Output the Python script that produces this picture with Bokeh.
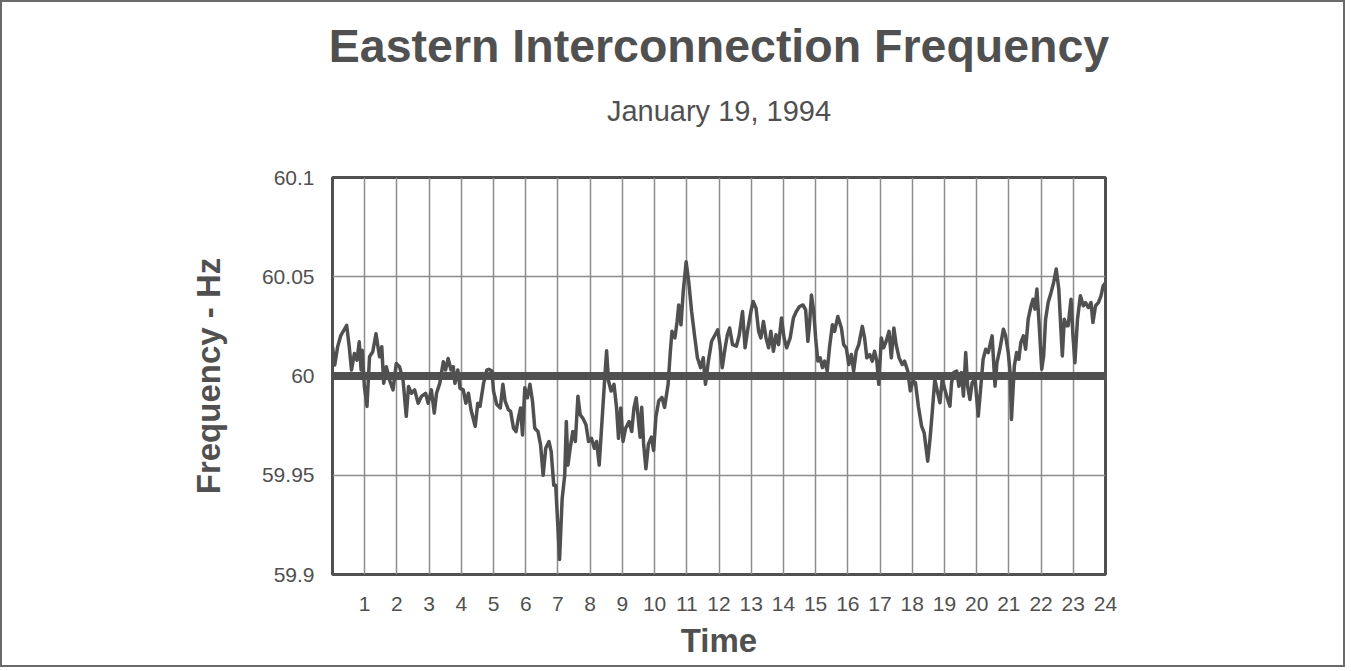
from bokeh.plotting import figure
from bokeh.models import Span, FixedTicker, Range1d, Title, LinearAxis
from bokeh.embed import file_html
from bokeh.resources import INLINE

# ---------------- data ----------------
hours = [
    0.00, 0.07, 0.16, 0.26, 0.44, 0.52, 0.59, 0.68, 0.76, 0.83, 0.89, 0.92, 0.99,
    1.07, 1.15, 1.25, 1.35, 1.46, 1.53, 1.59, 1.67, 1.77, 1.88, 1.98,
    2.08, 2.19, 2.29, 2.36, 2.45, 2.55, 2.66, 2.76, 2.89, 2.97,
    3.07, 3.16, 3.23, 3.33, 3.44, 3.51, 3.59, 3.68, 3.75, 3.80, 3.89, 3.96,
    4.06, 4.14, 4.22, 4.30, 4.43, 4.51, 4.58, 4.69, 4.79, 4.85, 4.95,
    5.00, 5.10, 5.21, 5.29, 5.36, 5.46, 5.53, 5.62, 5.70, 5.77, 5.84, 5.90, 5.97,
    6.05, 6.13, 6.21, 6.28, 6.38, 6.46, 6.54, 6.62, 6.72, 6.79, 6.87, 6.93,
    7.05, 7.13, 7.21, 7.26, 7.31, 7.38, 7.46, 7.54, 7.62, 7.69, 7.77, 7.87, 7.95,
    8.04, 8.13, 8.20, 8.28, 8.36, 8.44, 8.51, 8.57, 8.65, 8.74, 8.82, 8.88, 8.95,
    9.02, 9.10, 9.21, 9.29, 9.36, 9.43, 9.55, 9.60, 9.66, 9.73, 9.81, 9.90, 9.97,
    10.04, 10.13, 10.23, 10.31, 10.42, 10.49, 10.54, 10.63, 10.70, 10.75, 10.82, 10.89, 10.98,
    11.06, 11.15, 11.25, 11.33, 11.43, 11.51, 11.58, 11.67, 11.77, 11.88, 11.96,
    12.03, 12.10, 12.19, 12.26, 12.33, 12.42, 12.54, 12.63, 12.73, 12.81, 12.90, 12.99,
    13.06, 13.15, 13.23, 13.30, 13.38, 13.46, 13.54, 13.61, 13.69, 13.77, 13.85, 13.94,
    14.02, 14.10, 14.21, 14.31, 14.40, 14.50, 14.61, 14.69, 14.76, 14.81, 14.87, 14.94,
    15.00, 15.07, 15.14, 15.21, 15.28, 15.36, 15.43, 15.52, 15.59, 15.69, 15.80, 15.87, 15.95,
    16.03, 16.11, 16.18, 16.26, 16.34, 16.45, 16.52, 16.59, 16.68, 16.76, 16.83, 16.90, 16.96,
    17.04, 17.11, 17.19, 17.28, 17.35, 17.43, 17.50, 17.59, 17.69, 17.76, 17.86, 17.94,
    18.02, 18.10, 18.19, 18.29, 18.37, 18.48, 18.55, 18.62, 18.70, 18.79, 18.86, 18.93,
    19.01, 19.10, 19.17, 19.22, 19.29, 19.38, 19.45, 19.53, 19.59, 19.66, 19.72, 19.79, 19.86, 19.95,
    20.05, 20.13, 20.20, 20.28, 20.36, 20.43, 20.48, 20.57, 20.63, 20.72, 20.83, 20.90, 20.98,
    21.04, 21.08, 21.17, 21.24, 21.31, 21.37, 21.45, 21.52, 21.60, 21.69, 21.75, 21.81, 21.87, 21.93,
    22.02, 22.08, 22.14, 22.22, 22.31, 22.39, 22.47, 22.55, 22.62, 22.66, 22.72, 22.79, 22.84, 22.93, 22.99,
    23.05, 23.13, 23.22, 23.31, 23.38, 23.47, 23.55, 23.61, 23.69, 23.78, 23.86, 23.93, 24.00,
]

freq = [
    60.0147, 60.0055, 60.0147, 60.0205, 60.0255, 60.0147, 60.0030, 60.0113, 60.0080, 60.0172, 60.0030, 60.0130, 59.9947,
    59.9847, 60.0097, 60.0122, 60.0213, 60.0097, 60.0147, 59.9963, 60.0047, 59.9980, 59.9930, 60.0063,
    60.0047, 59.9980, 59.9797, 59.9947, 59.9913, 59.9930, 59.9863, 59.9897, 59.9913, 59.9863,
    59.9930, 59.9813, 59.9913, 59.9963, 60.0072, 60.0030, 60.0088, 60.0030, 60.0047, 59.9963, 60.0030, 59.9938,
    59.9930, 59.9863, 59.9913, 59.9830, 59.9747, 59.9863, 59.9847, 59.9963, 60.0030, 60.0034, 60.0025,
    59.9924, 59.9856, 59.9839, 59.9958, 59.9873, 59.9831, 59.9822, 59.9737, 59.9720, 59.9788, 59.9839, 59.9703, 59.9941,
    59.9890, 59.9958, 59.9873, 59.9737, 59.9720, 59.9653, 59.9500, 59.9636, 59.9670, 59.9619, 59.9449, 59.9449,
    59.9076, 59.9381, 59.9500, 59.9771, 59.9551, 59.9636, 59.9720, 59.9670, 59.9898, 59.9805, 59.9788, 59.9754, 59.9670,
    59.9686, 59.9636, 59.9670, 59.9551, 59.9754, 59.9958, 60.0127, 59.9975, 59.9924, 59.9958, 59.9839, 59.9686, 59.9839,
    59.9670, 59.9737, 59.9771, 59.9720, 59.9839, 59.9890, 59.9692, 59.9842, 59.9658, 59.9533, 59.9658, 59.9692, 59.9625,
    59.9792, 59.9875, 59.9892, 59.9842, 59.9958, 60.0125, 60.0225, 60.0192, 60.0275, 60.0358, 60.0258, 60.0425, 60.0575,
    60.0475, 60.0325, 60.0192, 60.0092, 60.0042, 60.0092, 59.9958, 60.0075, 60.0175, 60.0208, 60.0233,
    60.0158, 60.0042, 60.0142, 60.0208, 60.0242, 60.0158, 60.0150, 60.0208, 60.0325, 60.0142, 60.0242, 60.0325,
    60.0375, 60.0342, 60.0225, 60.0192, 60.0275, 60.0192, 60.0142, 60.0225, 60.0125, 60.0208, 60.0158, 60.0292,
    60.0192, 60.0142, 60.0192, 60.0292, 60.0325, 60.0350, 60.0358, 60.0333, 60.0175, 60.0258, 60.0408, 60.0325,
    60.0192, 60.0075, 60.0092, 60.0042, 60.0075, 60.0025, 60.0142, 60.0258, 60.0225, 60.0300, 60.0242, 60.0158, 60.0142,
    60.0058, 60.0108, 60.0025, 60.0125, 60.0158, 60.0250, 60.0192, 60.0092, 60.0108, 60.0075, 60.0125, 60.0075, 59.9958,
    60.0192, 60.0142, 60.0175, 60.0225, 60.0092, 60.0242, 60.0158, 60.0092, 60.0058, 60.0075, 60.0025, 59.9925,
    59.9975, 59.9966, 59.9848, 59.9747, 59.9714, 59.9571, 59.9680, 59.9815, 59.9983, 59.9916, 59.9865, 59.9983,
    59.9933, 59.9882, 59.9848, 59.9966, 60.0017, 60.0025, 59.9949, 60.0017, 59.9899, 60.0118, 59.9949, 59.9882, 59.9966, 59.9983,
    59.9798, 59.9949, 60.0084, 60.0135, 60.0118, 60.0168, 60.0202, 59.9949, 60.0067, 60.0135, 60.0236, 60.0202, 60.0118,
    60.0017, 59.9781, 60.0051, 60.0118, 60.0084, 60.0168, 60.0202, 60.0135, 60.0286, 60.0354, 60.0387, 60.0337, 60.0438, 60.0286,
    60.0034, 60.0101, 60.0286, 60.0370, 60.0421, 60.0471, 60.0539, 60.0438, 60.0219, 60.0101, 60.0286, 60.0253, 60.0253, 60.0387, 60.0202,
    60.0067, 60.0286, 60.0404, 60.0354, 60.0370, 60.0345, 60.0370, 60.0269, 60.0354, 60.0370, 60.0404, 60.0455, 60.0470,
]

x_ticks = list(range(1, 25))
y_ticks = [59.9, 59.95, 60.0, 60.05, 60.1]
y_tick_labels = ["59.9", "59.95", "60", "60.05", "60.1"]
nominal = 60.0
title_text = "Eastern Interconnection Frequency"
subtitle_text = "January 19, 1994"
x_label = "Time"
y_label = "Frequency - Hz"

# ---------------- layout ----------------
W, H = 1341, 663
FL, FT, FW, FH = 330, 175, 773, 397      # frame position inside canvas (px)
INK = "#505050"
GRID = "#8c8c8c"
FONT = "Liberation Sans"

p = figure(frame_width=FW, frame_height=FH, output_backend="svg", toolbar_location=None,
           x_range=Range1d(0, 24), y_range=Range1d(59.9, 60.1),
           min_border_left=FL, min_border_right=W - FL - FW,
           min_border_top=FT, min_border_bottom=H - FT - FH)
p.background_fill_color = "white"
p.border_fill_color = "white"
p.outline_line_color = INK
p.outline_line_width = 3
p.styles = {"border": "2px solid #6a6a6a"}

# grids
p.xgrid.ticker = FixedTicker(ticks=x_ticks)
p.ygrid.ticker = FixedTicker(ticks=y_ticks)
for g in (p.xgrid, p.ygrid):
    g.grid_line_color = GRID
    g.grid_line_width = 1.5

# axes
xax = p.below[0]
yax = p.left[0]
xax.ticker = FixedTicker(ticks=x_ticks)
yax.ticker = FixedTicker(ticks=y_ticks)
yax.major_label_overrides = {t: l for t, l in zip(y_ticks, y_tick_labels)}
for ax in (xax, yax):
    ax.axis_line_color = None
    ax.major_tick_line_color = None
    ax.minor_tick_line_color = None
    ax.major_tick_out = 0
    ax.major_tick_in = 0
    ax.major_label_text_color = INK
    ax.major_label_text_font = FONT
    ax.axis_label_text_color = INK
    ax.axis_label_text_font = FONT
    ax.axis_label_text_font_style = "bold"
    ax.axis_label_text_font_size = "33px"
xax.major_label_text_font_size = "21px"
yax.major_label_text_font_size = "21px"
xax.major_label_standoff = 22
yax.major_label_standoff = 18
xax.axis_label = x_label
yax.axis_label = y_label
xax.axis_label_standoff = 8
yax.axis_label_standoff = 32

# invisible spacer strip above the frame (one hidden tick gives it its height)
spacer = LinearAxis(ticker=FixedTicker(ticks=[12]), axis_line_color=None,
                    major_tick_line_color=None, minor_tick_line_color=None,
                    major_tick_in=0, major_tick_out=29, minor_tick_out=0,
                    major_label_text_font_size="0px", major_label_overrides={12: ""},
                    major_label_standoff=0, axis_label_standoff=0)
p.add_layout(spacer, "above")

# titles: subtitle next to the spacer, main title outermost
p.add_layout(Title(text=subtitle_text, align="center", text_font=FONT, text_font_size="29px",
                   text_font_style="normal", text_color=INK, standoff=43), "above")
p.title = Title(text=title_text, align="center", text_font=FONT, text_font_size="46.5px",
                text_font_style="bold", text_color=INK, standoff=0)

# nominal 60 Hz reference line
p.add_layout(Span(location=nominal, dimension="width", line_color=INK, line_width=8))

# frequency trace
p.line(hours, freq, line_color=INK, line_width=3.5, line_join="round")

open("out.html", "w").write(file_html(p, INLINE))
